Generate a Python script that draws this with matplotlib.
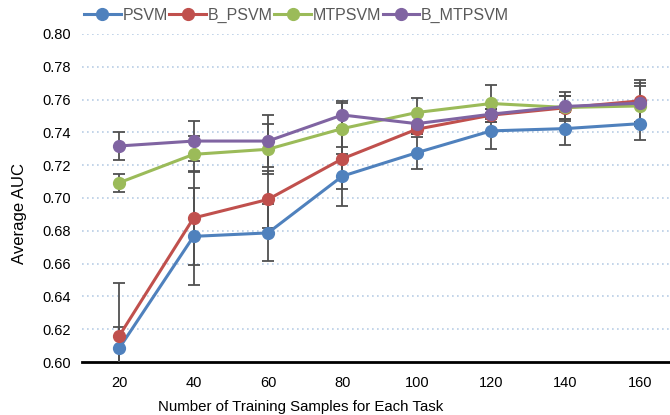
import matplotlib
matplotlib.use("Agg")
import matplotlib.pyplot as plt

plt.rcParams['font.family'] = ['Liberation Sans', 'DejaVu Sans']

# training samples per task
samples = [20, 40, 60, 80, 100, 120, 140, 160]

# average AUC for each method
psvm = [0.6084, 0.6766, 0.6787, 0.7133, 0.7276, 0.7409, 0.7423, 0.7453]
b_psvm = [0.6159, 0.6878, 0.6991, 0.7239, 0.7419, 0.7505, 0.7550, 0.7592]
mtpsvm = [0.7093, 0.7266, 0.7297, 0.7423, 0.7521, 0.7576, 0.7552, 0.7561]
b_mtpsvm = [0.7317, 0.7347, 0.7347, 0.7506, 0.7453, 0.7511, 0.7558, 0.7578]

# error bar half widths
psvm_err = [0.013, 0.0296, 0.0174, 0.018, 0.0097, 0.0108, 0.0102, 0.010]
b_psvm_err = [0.032, 0.0285, 0.0174, 0.0187, 0.003, 0.004, 0.007, 0.013]
mtpsvm_err = [0.0055, 0.011, 0.0152, 0.0155, 0.0086, 0.0114, 0.007, 0.012]
b_mtpsvm_err = [0.0085, 0.012, 0.0157, 0.0086, 0.0065, 0.003, 0.009, 0.012]

labels = ['PSVM', 'B_PSVM', 'MTPSVM', 'B_MTPSVM']
colors = ['#4F81BD', '#C0504D', '#9BBB59', '#8064A2']
yticks = [0.60, 0.62, 0.64, 0.66, 0.68, 0.70, 0.72, 0.74, 0.76, 0.78, 0.80]

fig = plt.figure(figsize=(6.7, 4.15), dpi=100)
ax = fig.add_axes([0.1224, 0.1277, 0.8776, 0.7905])

series = [psvm, b_psvm, mtpsvm, b_mtpsvm]
errs = [psvm_err, b_psvm_err, mtpsvm_err, b_mtpsvm_err]

handles = []
for vals, err, lab, col in zip(series, errs, labels, colors):
    ax.errorbar(samples, vals, yerr=err, fmt='none', ecolor='#505050',
                elinewidth=1.3, capsize=4, capthick=1.3, zorder=3)
    h, = ax.plot(samples, vals, color=col, lw=2.2, marker='o', ms=8.5,
                 mec=col, mfc=col, label=lab, zorder=4)
    handles.append(h)

ax.set_xlim(10, 168.1)
ax.set_ylim(0.60, 0.80)
ax.set_xticks(samples)
ax.set_yticks(yticks)
ax.set_yticklabels([f'{v:.2f}' for v in yticks])
ax.tick_params(axis='both', length=0, labelsize=10.5, colors='black')
ax.tick_params(axis='x', pad=10)
ax.tick_params(axis='y', pad=8)

for s in ['top', 'right', 'left']:
    ax.spines[s].set_visible(False)
ax.spines['bottom'].set_linewidth(2)
ax.spines['bottom'].set_color('black')

for v in yticks[1:]:
    ax.axhline(v, color='#B9CDE5', lw=1.2, ls=(0, (1, 2)), zorder=1)

ax.set_xlabel('Number of Training Samples for Each Task', fontsize=10.8)
ax.xaxis.set_label_coords(0.372, -0.115)
ax.set_ylabel('Average AUC', fontsize=12)
ax.yaxis.set_label_coords(-0.094, 0.454)

fig.legend(handles=handles, loc='center left', bbox_to_anchor=(0.104, 0.963),
           ncol=4, frameon=False, fontsize=11.5, handlelength=2.3,
           handletextpad=0.1, columnspacing=0.1, labelcolor='#595959')

fig.savefig('out.png', dpi=100)
